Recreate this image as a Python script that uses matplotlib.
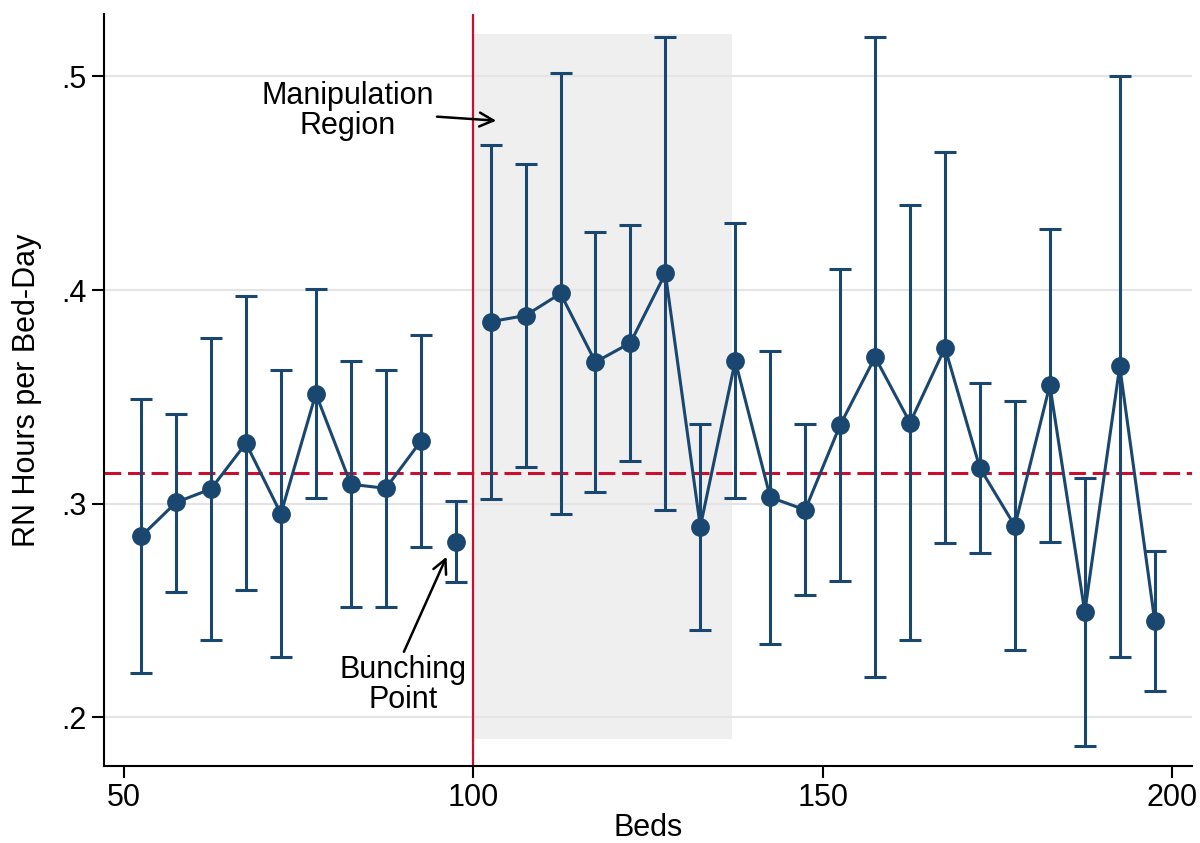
import matplotlib
matplotlib.use("Agg")

import matplotlib.pyplot as plt
from matplotlib.patches import Rectangle

plt.rcParams["font.family"] = ["Liberation Sans", "DejaVu Sans"]

# bin midpoints (beds)
beds = [52.5, 57.5, 62.5, 67.5, 72.5, 77.5, 82.5, 87.5, 92.5, 97.5,
        102.5, 107.5, 112.5, 117.5, 122.5, 127.5, 132.5, 137.5, 142.5, 147.5,
        152.5, 157.5, 162.5, 167.5, 172.5, 177.5, 182.5, 187.5, 192.5, 197.5]

rn_hours = [0.2847, 0.3006, 0.3069, 0.3283, 0.2953, 0.3515, 0.3091, 0.3072, 0.3292, 0.2822,
            0.3852, 0.3881, 0.3984, 0.3663, 0.3753, 0.4078, 0.2892, 0.3669, 0.3030, 0.2971,
            0.3368, 0.3686, 0.3379, 0.3730, 0.3167, 0.2896, 0.3555, 0.2493, 0.3643, 0.2452]

ci_high = [0.3489, 0.3420, 0.3774, 0.3971, 0.3625, 0.4006, 0.3669, 0.3626, 0.3790, 0.3014,
           0.4680, 0.4588, 0.5015, 0.4273, 0.4305, 0.5184, 0.3374, 0.4312, 0.3716, 0.3374,
           0.4098, 0.5184, 0.4396, 0.4646, 0.3567, 0.3479, 0.4285, 0.3120, 0.5001, 0.2780]

ci_low = [0.2206, 0.2589, 0.2364, 0.2596, 0.2283, 0.3025, 0.2515, 0.2518, 0.2797, 0.2634,
          0.3022, 0.3173, 0.2953, 0.3053, 0.3200, 0.2971, 0.2409, 0.3027, 0.2343, 0.2571,
          0.2640, 0.2190, 0.2361, 0.2815, 0.2768, 0.2315, 0.2822, 0.1865, 0.2281, 0.2124]

mean_level = 0.3144
threshold = 100
region_end = 137.1
region_y = (0.19, 0.52)

navy = "#1a476f"
red = "#c8102e"

fig = plt.figure(figsize=(12, 8.43), dpi=100)
ax = fig.add_axes([0.0867, 0.0913, 0.907, 0.892])

ax.add_patch(Rectangle((threshold, region_y[0]), region_end - threshold,
                       region_y[1] - region_y[0], facecolor="#efefef",
                       edgecolor="none", zorder=0))

ax.grid(axis="y", color="#e4e4e4", linewidth=1.5, zorder=0.5)
ax.set_axisbelow(True)

ax.axhline(mean_level, color=red, linestyle=(0, (5.5, 2.2)), linewidth=2.2, zorder=2)
ax.axvline(threshold, color=red, linewidth=1.6, zorder=2)

err_low = [m - lo for m, lo in zip(rn_hours, ci_low)]
err_high = [hi - m for m, hi in zip(rn_hours, ci_high)]
ax.errorbar(beds, rn_hours, yerr=[err_low, err_high], fmt="none",
            ecolor=navy, elinewidth=2.2, capsize=8, capthick=2.2, zorder=3)

# line drawn without the bunching point (it sits apart)
ax.plot(beds[:9], rn_hours[:9], color=navy, linewidth=2.2, zorder=4)
ax.plot(beds[10:], rn_hours[10:], color=navy, linewidth=2.2, zorder=4)
ax.plot(beds, rn_hours, linestyle="none", marker="o", markersize=12.5,
        color=navy, zorder=5)

ax.annotate("Manipulation\nRegion", xy=(103.3, 0.4793), xytext=(82.1, 0.484),
            ha="center", va="center", fontsize=22, linespacing=1.0,
            arrowprops=dict(arrowstyle="->", color="black", lw=1.8,
                            mutation_scale=25, shrinkA=0, shrinkB=0))
ax.annotate("", xy=(96.2, 0.2752), xytext=(90.1, 0.2307),
            arrowprops=dict(arrowstyle="->", color="black", lw=1.8,
                            mutation_scale=25, shrinkA=0, shrinkB=0))
ax.text(90.0, 0.2152, "Bunching\nPoint", ha="center", va="center",
        fontsize=22, linespacing=1.0)

ax.set_xlim(47.2, 202.9)
ax.set_ylim(0.1772, 0.5292)
ax.set_xticks([50, 100, 150, 200])
ax.set_yticks([0.2, 0.3, 0.4, 0.5])
ax.set_yticklabels([".2", ".3", ".4", ".5"])
ax.tick_params(labelsize=22, length=8.5, width=1.5, color="black", pad=4)

ax.spines["top"].set_visible(False)
ax.spines["right"].set_visible(False)
ax.spines["left"].set_linewidth(1.5)
ax.spines["bottom"].set_linewidth(1.5)

ax.set_xlabel("Beds", fontsize=22, labelpad=0)
ax.set_ylabel("RN Hours per Bed-Day", fontsize=22, labelpad=14)

fig.savefig("out.png", dpi=100)
plt.close(fig)
